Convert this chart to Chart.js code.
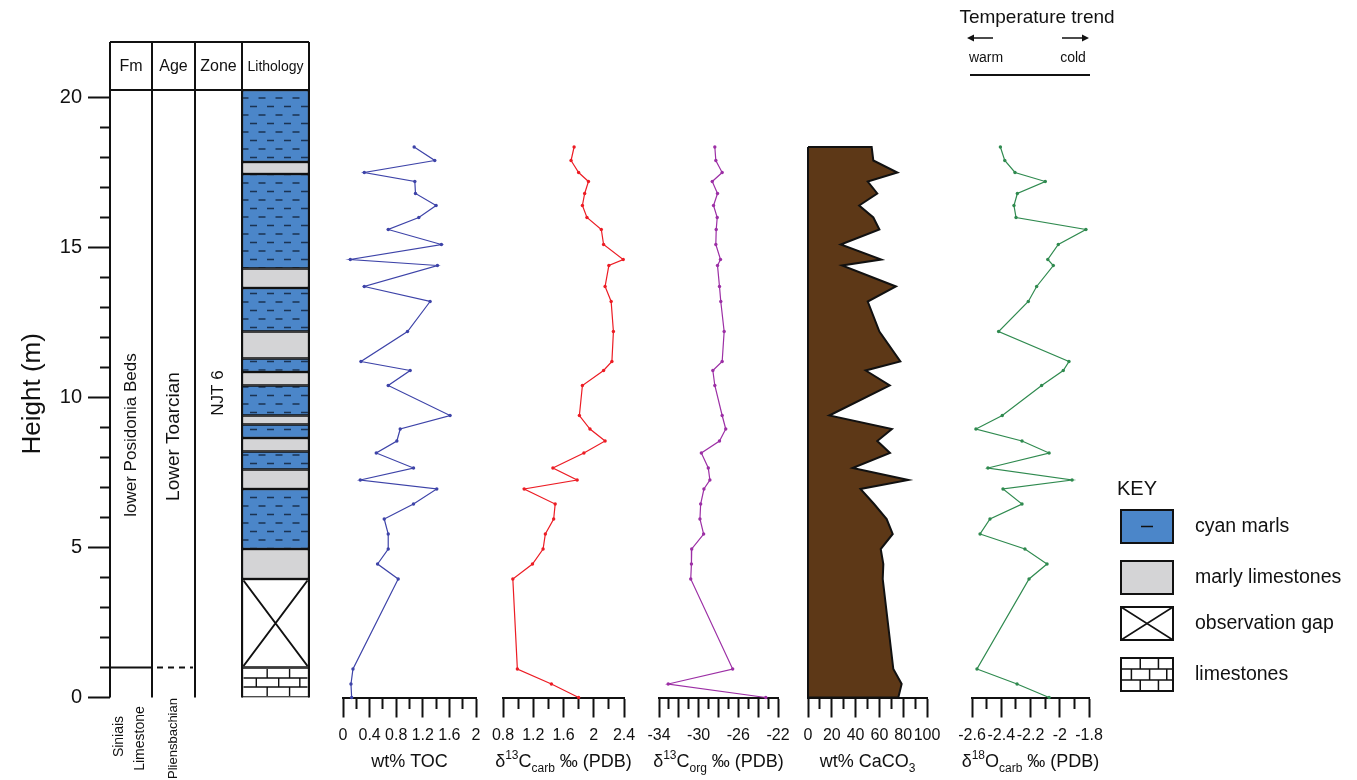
<!DOCTYPE html>
<html>
<head>
<meta charset="utf-8">
<script src="https://cdn.jsdelivr.net/npm/chart.js@4.4.1/dist/chart.umd.min.js"></script>
<style>
  html, body { margin: 0; padding: 0; background: #fff; }
  #wrap { position: relative; width: 1357px; height: 780px; overflow: hidden; background: #fff; }
  #wrap canvas { position: absolute; top: 0; }
</style>
</head>
<body>
<div id="wrap"></div>
<script>
// ---- Sample heights (m), shared by every geochemical profile ----
const heights = [18.35, 17.9, 17.5, 17.2, 16.8, 16.4, 16.0, 15.6, 15.1, 14.6, 14.4, 13.7, 13.2, 12.2,
  11.2, 10.9, 10.4, 9.4, 8.95, 8.55, 8.15, 7.65, 7.25, 6.95, 6.45, 5.95, 5.45, 4.95, 4.45, 3.95, 0.95, 0.45, 0];

// ---- Profiles ----
const toc = [1.07, 1.38, 0.32, 1.08, 1.09, 1.40, 1.14, 0.68, 1.48, 0.11, 1.42, 0.32, 1.31, 0.97,
  0.27, 1.01, 0.68, 1.61, 0.86, 0.81, 0.50, 1.06, 0.26, 1.41, 1.06, 0.62, 0.68, 0.68, 0.52, 0.83, 0.15, 0.12, 0.13];
const d13Ccarb = [1.74, 1.70, 1.80, 1.93, 1.88, 1.85, 1.91, 2.10, 2.13, 2.39, 2.20, 2.15, 2.23, 2.26,
  2.24, 2.13, 1.85, 1.81, 1.95, 2.15, 1.87, 1.46, 1.78, 1.08, 1.49, 1.47, 1.36, 1.33, 1.19, 0.93, 0.99, 1.44, 1.80];
const d13Corg = [-28.37, -28.27, -27.63, -28.63, -28.1, -28.5, -28.13, -28.23, -28.27, -27.8, -28.1, -27.9, -27.77, -27.43,
  -27.63, -28.57, -28.37, -27.63, -27.27, -27.9, -29.73, -29.03, -28.87, -29.47, -29.8, -29.87, -29.5, -30.7, -30.73, -30.8, -26.57, -33.07, -23.23];
const caco3 = [53.5, 54.9, 75.1, 50.2, 58.2, 43.0, 54.9, 60.0, 27.5, 61.6, 28.6, 73.9, 50.2, 60.0,
  77.6, 48.5, 68.7, 17.9, 70.5, 58.2, 68.9, 37.5, 84.3, 44.1, 55.5, 66.1, 71.2, 61.1, 63.3, 62.8, 71.7, 78.7, 75.9];
const d18O = [-2.406, -2.376, -2.306, -2.099, -2.290, -2.313, -2.299, -1.821, -2.010, -2.082, -2.044, -2.158, -2.215, -2.418,
  -1.937, -1.976, -2.124, -2.393, -2.573, -2.258, -2.073, -2.491, -1.916, -2.388, -2.258, -2.477, -2.545, -2.238, -2.087, -2.210, -2.566, -2.292, -2.073];

// ---- Lithological log: bed tops (m) from the top down, base of the log at 0 m ----
const bedTops = [20.25, 17.85, 17.45, 14.3, 13.65, 12.2, 11.3, 10.85, 10.4, 9.4, 9.1, 8.65, 8.2, 7.6, 6.95, 4.95, 3.95, 1.0];
const bedTypes = ['marl', 'marlyLst', 'marl', 'marlyLst', 'marl', 'marlyLst', 'marl', 'marlyLst', 'marl',
  'marlyLst', 'marl', 'marlyLst', 'marl', 'marlyLst', 'marl', 'marlyLst', 'gap', 'lst'];
const logBase = 0;
const formationBoundary = 1.0;

// ---- Axis ticks ----
const heightMax = 20.25;
const heightTicks = [0, 5, 10, 15, 20];
const heightMinorTicks = [1, 2, 3, 4, 6, 7, 8, 9, 11, 12, 13, 14, 16, 17, 18, 19];
const tocTicks = [0, 0.4, 0.8, 1.2, 1.6, 2];
const tocMinorTicks = [0.2, 0.6, 1.0, 1.4, 1.8];
const carbTicks = [0.8, 1.2, 1.6, 2, 2.4];
const carbMinorTicks = [1.0, 1.4, 1.8, 2.2];
const orgTicks = [-34, -32, -30, -28, -26, -24, -22];
const orgTickLabels = [-34, -30, -26, -22];
const orgMinorTicks = [-33, -31, -29, -27, -25, -23];
const caTicks = [0, 20, 40, 60, 80, 100];
const caMinorTicks = [10, 30, 50, 70, 90];
const oTicks = [-2.6, -2.4, -2.2, -2, -1.8];
const oMinorTicks = [-2.5, -2.3, -2.1, -1.9];

// ---- Legend entries ----
const keyTypes = ['marl', 'marlyLst', 'gap', 'lst'];
const keyLabels = ['cyan marls', 'marly limestones', 'observation gap', 'limestones'];

// ---------------------------------------------------------------------------
const FONT = '"Liberation Sans", Arial, Helvetica, sans-serif';
const INK = '#111111';
const MARL_BLUE = '#4b86c9';
const LST_GREY = '#d4d4d6';
Chart.defaults.font.family = FONT;
Chart.defaults.color = INK;
Chart.defaults.animation = false;

const CANVAS_H = 780;
const PLOT_TOP = 90;        // top of the log / profiles
const AXIS_BAND = 82.5;     // space under the profiles for ticks and titles

function addCanvas(left, width) {
  const c = document.createElement('canvas');
  c.width = width; c.height = CANVAS_H;
  c.style.left = left + 'px';
  c.style.width = width + 'px';
  c.style.height = CANVAS_H + 'px';
  document.getElementById('wrap').appendChild(c);
  return c;
}

// Fill for the marl beds: blue with short dark dashes in staggered rows
function makeMarlPattern() {
  const c = document.createElement('canvas');
  c.width = 17; c.height = 17;
  const g = c.getContext('2d');
  g.fillStyle = MARL_BLUE;
  g.fillRect(0, 0, 17, 17);
  g.strokeStyle = '#1b3352';
  g.lineWidth = 1.3;
  g.beginPath();
  g.moveTo(1, 4.5); g.lineTo(8, 4.5);
  g.moveTo(9.5, 13); g.lineTo(16.5, 13);
  g.stroke();
  return g.createPattern(c, 'repeat');
}
const marlPattern = makeMarlPattern();

function rockFill(type) {
  if (type === 'marl') return marlPattern;
  if (type === 'marlyLst') return LST_GREY;
  return '#ffffff';
}

function drawCross(ctx, l, t, r, b) {
  ctx.beginPath();
  ctx.moveTo(l, t); ctx.lineTo(r, b);
  ctx.moveTo(r, t); ctx.lineTo(l, b);
  ctx.stroke();
}

function drawBricks(ctx, l, t, r, b) {
  const w = r - l, rowH = (b - t) / 3;
  const joints = [[0.37, 0.72], [0.2, 0.55, 0.88], [0.37, 0.72]];
  ctx.beginPath();
  for (let i = 1; i < 3; i++) { ctx.moveTo(l, t + i * rowH); ctx.lineTo(r, t + i * rowH); }
  joints.forEach((row, i) => row.forEach(f => {
    ctx.moveTo(l + f * w, t + i * rowH); ctx.lineTo(l + f * w, t + (i + 1) * rowH);
  }));
  ctx.stroke();
}

function vText(ctx, text, x, y, size) {
  ctx.save();
  ctx.translate(x, y);
  ctx.rotate(-Math.PI / 2);
  ctx.font = size + 'px ' + FONT;
  ctx.textAlign = 'center';
  ctx.textBaseline = 'middle';
  ctx.fillText(text, 0, 0);
  ctx.restore();
}

// Text with superscript / subscript parts, centred on cx, baseline at y
function richText(ctx, parts, cx, y, size) {
  const small = Math.round(size * 0.68);
  const fontOf = p => (p[1] ? small : size) + 'px ' + FONT;
  let total = 0;
  parts.forEach(p => { ctx.font = fontOf(p); total += ctx.measureText(p[0]).width; });
  let x = cx - total / 2;
  ctx.textAlign = 'left';
  ctx.textBaseline = 'alphabetic';
  parts.forEach(p => {
    ctx.font = fontOf(p);
    const dy = p[1] === 'sup' ? -size * 0.42 : p[1] === 'sub' ? size * 0.3 : 0;
    ctx.fillText(p[0], x, y + dy);
    x += ctx.measureText(p[0]).width;
  });
}

// ---------------------------------------------------------------------------
// Height axis with the Fm / Age / Zone columns
const colWidths = [42, 43, 47, 67];
const colHeaders = ['Fm', 'Age', 'Zone', 'Lithology'];

const columnFrame = {
  id: 'columnFrame',
  afterDraw(chart) {
    const { ctx, chartArea: a, scales: { y } } = chart;
    const xs = [a.left];
    colWidths.forEach(w => xs.push(xs[xs.length - 1] + w));
    const headTop = 42;
    ctx.save();
    ctx.strokeStyle = INK;
    ctx.fillStyle = INK;
    ctx.lineWidth = 2;
    ctx.beginPath();
    ctx.moveTo(xs[0], headTop); ctx.lineTo(xs[4], headTop);
    ctx.moveTo(xs[0], a.top); ctx.lineTo(xs[4], a.top);
    xs.forEach(x => { ctx.moveTo(x, headTop); ctx.lineTo(x, a.bottom); });
    ctx.stroke();

    ctx.textAlign = 'center';
    ctx.textBaseline = 'middle';
    colHeaders.forEach((h, i) => {
      ctx.font = (i === 3 ? 14 : 16) + 'px ' + FONT;
      ctx.fillText(h, (xs[i] + xs[i + 1]) / 2, (headTop + a.top) / 2 + 1);
    });

    // formation / stage boundary
    const yb = y.getPixelForValue(formationBoundary);
    ctx.beginPath();
    ctx.moveTo(xs[0], yb); ctx.lineTo(xs[1], yb);
    ctx.stroke();
    ctx.setLineDash([6, 5]);
    ctx.beginPath();
    ctx.moveTo(xs[1] + 5, yb); ctx.lineTo(xs[2] - 2, yb);
    ctx.stroke();
    ctx.setLineDash([]);

    const base = y.getPixelForValue(0);
    vText(ctx, 'lower Posidonia Beds', (xs[0] + xs[1]) / 2, y.getPixelForValue(8.75), 17);
    vText(ctx, 'Lower Toarcian', (xs[1] + xs[2]) / 2, y.getPixelForValue(8.7), 19);
    vText(ctx, 'NJT 6', (xs[2] + xs[3]) / 2, y.getPixelForValue(10.15), 17);
    vText(ctx, 'Siniais', xs[0] + 9, base + 39, 14);
    vText(ctx, 'Limestone', xs[0] + 30, base + 41, 14);
    vText(ctx, 'Pliensbachian', (xs[1] + xs[2]) / 2, base + 41, 13);
    ctx.restore();
  }
};

new Chart(addCanvas(0, 330), {
  type: 'scatter',
  data: { datasets: [] },
  options: {
    responsive: false,
    events: [],
    layout: { padding: { left: 0, right: 21, top: PLOT_TOP, bottom: AXIS_BAND } },
    plugins: { legend: { display: false }, tooltip: { enabled: false } },
    scales: {
      x: { type: 'linear', min: 0, max: 1, display: false },
      y: {
        type: 'linear', position: 'left', min: 0, max: heightMax,
        afterFit: s => { s.width = 110; },
        afterBuildTicks: s => { s.ticks = heightTicks.map(v => ({ value: v })); },
        grid: { drawOnChartArea: false, drawTicks: true, tickLength: 22, tickWidth: 2, tickColor: INK },
        border: { display: false },
        ticks: { padding: 6, font: { size: 20 }, color: INK },
        title: { display: true, text: 'Height (m)', font: { size: 26 }, color: INK, padding: { top: 17, bottom: 0 } }
      },
      yMinor: {
        axis: 'y', type: 'linear', position: { x: 0 }, min: 0, max: heightMax,
        afterBuildTicks: s => { s.ticks = heightMinorTicks.map(v => ({ value: v })); },
        grid: { drawOnChartArea: false, drawTicks: true, tickLength: 10, tickWidth: 2, tickColor: INK },
        border: { display: false },
        ticks: { display: false }
      }
    }
  },
  plugins: [columnFrame]
});

// ---------------------------------------------------------------------------
// Lithology column: one floating bar per bed
const rockSymbols = {
  id: 'rockSymbols',
  afterDatasetsDraw(chart) {
    const { ctx } = chart;
    ctx.save();
    ctx.strokeStyle = INK;
    chart.data.datasets.forEach((ds, i) => {
      if (ds.rockType !== 'gap' && ds.rockType !== 'lst') return;
      const el = chart.getDatasetMeta(i).data[0];
      const { x, y, base, width } = el.getProps(['x', 'y', 'base', 'width'], true);
      const inset = 1.5;
      const l = x - width / 2 + inset, r = x + width / 2 - inset;
      const t = Math.min(y, base) + inset, b = Math.max(y, base) - inset;
      if (ds.rockType === 'gap') { ctx.lineWidth = 2; drawCross(ctx, l, t, r, b); }
      else { ctx.lineWidth = 1.4; drawBricks(ctx, l, t, r, b); }
    });
    ctx.restore();
  }
};

new Chart(addCanvas(232, 87), {
  type: 'bar',
  data: {
    labels: ['Lithology'],
    datasets: bedTops.map((top, i) => ({
      data: [[i + 1 < bedTops.length ? bedTops[i + 1] : logBase, top]],
      rockType: bedTypes[i],
      backgroundColor: rockFill(bedTypes[i]),
      borderColor: INK,
      borderWidth: 1.5,
      borderSkipped: false,
      grouped: false,
      barPercentage: 1,
      categoryPercentage: 1
    }))
  },
  options: {
    responsive: false,
    events: [],
    layout: { padding: { left: 10, right: 10, top: PLOT_TOP, bottom: AXIS_BAND } },
    plugins: { legend: { display: false }, tooltip: { enabled: false } },
    scales: {
      x: { display: false },
      y: { type: 'linear', min: 0, max: heightMax, display: false }
    }
  },
  plugins: [rockSymbols]
});

// ---------------------------------------------------------------------------
// Geochemical profiles
function profileTitle(parts) {
  return {
    id: 'profileTitle',
    afterDraw(chart) {
      const { ctx, chartArea: a } = chart;
      ctx.save();
      ctx.fillStyle = INK;
      richText(ctx, parts, (a.left + a.right) / 2, 767, 18);
      ctx.restore();
    }
  };
}

function profileChart(cfg) {
  const padL = 25, padR = cfg.padR || 25;
  const canvas = addCanvas(cfg.left - padL, cfg.right - cfg.left + padL + padR);
  let points = cfg.values.map((v, i) => ({ x: v, y: heights[i] }));
  const dataset = {
    data: points,
    xAxisID: 'x', yAxisID: 'y',
    borderColor: cfg.color,
    borderWidth: 1.2,
    pointRadius: 1.7,
    pointBorderWidth: 0,
    pointBackgroundColor: cfg.color,
    tension: 0,
    fill: false,
    clip: false
  };
  if (cfg.area) {
    // closed area from the zero line out to each value
    points = [{ x: 0, y: heights[0] }].concat(points);
    if (cfg.values.length) points.push({ x: 0, y: heights[heights.length - 1] });
    Object.assign(dataset, {
      data: points, borderColor: INK, borderWidth: 2, pointRadius: 0,
      backgroundColor: cfg.color, fill: 'origin'
    });
  }
  const fmt = v => String(v);
  return new Chart(canvas, {
    type: 'line',
    data: { datasets: [dataset] },
    options: {
      responsive: false,
      events: [],
      indexAxis: 'y',
      layout: { padding: { left: padL, right: padR, top: PLOT_TOP, bottom: 0 } },
      plugins: { legend: { display: false }, tooltip: { enabled: false } },
      scales: {
        y: { type: 'linear', min: 0, max: heightMax, display: false },
        x: {
          type: 'linear', position: 'bottom', min: cfg.min, max: cfg.max,
          afterFit: s => { s.height = AXIS_BAND; },
          afterBuildTicks: s => { s.ticks = cfg.ticks.map(v => ({ value: v })); },
          grid: { drawOnChartArea: false, drawTicks: true, tickLength: 20, tickWidth: 2, tickColor: INK },
          border: { display: true, width: 2, color: INK },
          ticks: {
            autoSkip: false, maxRotation: 0, minRotation: 0, padding: 8,
            font: { size: 16 }, color: INK,
            callback: v => (!cfg.labels || cfg.labels.includes(v)) ? fmt(v) : ''
          }
        },
        xMinor: {
          axis: 'x', type: 'linear', position: { y: 0 }, min: cfg.min, max: cfg.max,
          afterBuildTicks: s => { s.ticks = cfg.minor.map(v => ({ value: v })); },
          grid: { drawOnChartArea: false, drawTicks: true, tickLength: 11, tickWidth: 2, tickColor: INK },
          border: { display: false },
          ticks: { display: false }
        }
      }
    },
    plugins: [profileTitle(cfg.title)].concat(cfg.plugins || [])
  });
}

profileChart({
  left: 343, right: 476, min: 0, max: 2, values: toc, color: '#3d43a8',
  ticks: tocTicks, minor: tocMinorTicks, title: [['wt% TOC']]
});
profileChart({
  left: 503, right: 624, min: 0.8, max: 2.4, values: d13Ccarb, color: '#ec1c24',
  ticks: carbTicks, minor: carbMinorTicks,
  title: [['δ'], ['13', 'sup'], ['C'], ['carb', 'sub'], [' ‰ (PDB)']]
});
profileChart({
  left: 659, right: 778, min: -34, max: -22, values: d13Corg, color: '#9c2fa5',
  ticks: orgTicks, labels: orgTickLabels, minor: orgMinorTicks,
  title: [['δ'], ['13', 'sup'], ['C'], ['org', 'sub'], [' ‰ (PDB)']]
});

// left edge of the carbonate area
const zeroEdge = {
  id: 'zeroEdge',
  afterDatasetsDraw(chart) {
    const { ctx, scales: { x, y } } = chart;
    const px = x.getPixelForValue(0);
    ctx.save();
    ctx.strokeStyle = INK; ctx.lineWidth = 2;
    ctx.beginPath();
    ctx.moveTo(px, y.getPixelForValue(heights[0]));
    ctx.lineTo(px, y.getPixelForValue(heights[heights.length - 1]));
    ctx.stroke();
    ctx.restore();
  }
};
profileChart({
  left: 808, right: 927, min: 0, max: 100, values: caco3, color: '#5d3817', area: true,
  ticks: caTicks, minor: caMinorTicks, title: [['wt% CaCO'], ['3', 'sub']], plugins: [zeroEdge]
});

// temperature arrow header and lithology key, drawn beside the last profile
const keyAndTrend = {
  id: 'keyAndTrend',
  afterDraw(chart) {
    const { ctx } = chart;
    const off = parseFloat(chart.canvas.style.left);
    ctx.save();
    ctx.translate(-off, 0);
    ctx.fillStyle = INK; ctx.strokeStyle = INK;

    // temperature trend
    ctx.textAlign = 'center'; ctx.textBaseline = 'middle';
    ctx.font = '19px ' + FONT;
    ctx.fillText('Temperature trend', 1037, 18);
    ctx.font = '14px ' + FONT;
    ctx.fillText('warm', 986, 58);
    ctx.fillText('cold', 1073, 58);
    ctx.lineWidth = 1.6;
    ctx.beginPath();
    ctx.moveTo(970, 38); ctx.lineTo(993, 38);
    ctx.moveTo(1062, 38); ctx.lineTo(1085, 38);
    ctx.stroke();
    ctx.beginPath();
    ctx.moveTo(967, 38); ctx.lineTo(974, 34.5); ctx.lineTo(974, 41.5); ctx.closePath();
    ctx.moveTo(1089, 38); ctx.lineTo(1082, 34.5); ctx.lineTo(1082, 41.5); ctx.closePath();
    ctx.fill();
    ctx.lineWidth = 2;
    ctx.beginPath();
    ctx.moveTo(970, 75); ctx.lineTo(1090, 75);
    ctx.stroke();

    // key
    ctx.textAlign = 'left';
    ctx.font = '20px ' + FONT;
    ctx.fillText('KEY', 1117, 489);
    const boxTops = [510, 561, 607, 658];
    const bx = 1121, bw = 52, bh = 33;
    keyTypes.forEach((type, i) => {
      const t = boxTops[i];
      ctx.fillStyle = type === 'marl' ? MARL_BLUE : rockFill(type);
      ctx.fillRect(bx, t, bw, bh);
      ctx.strokeStyle = INK;
      ctx.lineWidth = 1.5;
      if (type === 'marl') {
        ctx.beginPath(); ctx.moveTo(bx + 20, t + bh / 2); ctx.lineTo(bx + 32, t + bh / 2); ctx.stroke();
      }
      if (type === 'gap') drawCross(ctx, bx, t, bx + bw, t + bh);
      if (type === 'lst') drawBricks(ctx, bx, t, bx + bw, t + bh);
      ctx.lineWidth = 2;
      ctx.strokeRect(bx, t, bw, bh);
      ctx.fillStyle = INK;
      ctx.font = '19.5px ' + FONT;
      ctx.textBaseline = 'middle';
      ctx.fillText(keyLabels[i], 1195, t + bh / 2);
    });
    ctx.restore();
  }
};

profileChart({
  left: 972, right: 1089, padR: 268, min: -2.6, max: -1.8, values: d18O, color: '#2f8a4f',
  ticks: oTicks, minor: oMinorTicks,
  title: [['δ'], ['18', 'sup'], ['O'], ['carb', 'sub'], [' ‰ (PDB)']], plugins: [keyAndTrend]
});
</script>
</body>
</html>
